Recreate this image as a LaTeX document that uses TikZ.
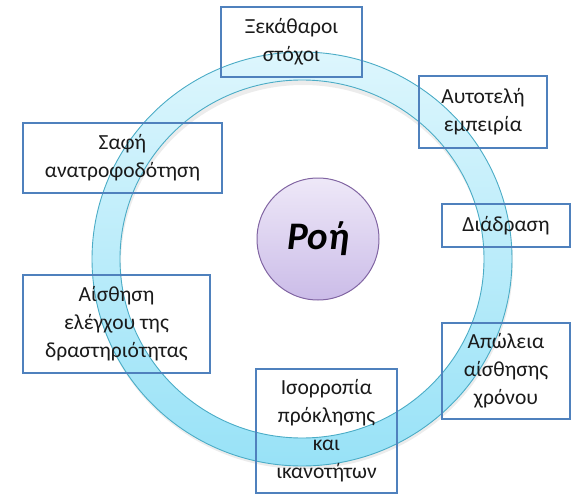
\documentclass[tikz,border=0pt]{standalone}
\usepackage{fontspec}
\setmainfont{Carlito}
\definecolor{boxline}{HTML}{4F81BD}
\definecolor{ringline}{HTML}{4BACC6}
\definecolor{ringtop}{HTML}{DDF6FD}
\definecolor{ringbot}{HTML}{98E2F7}
\definecolor{flowtop}{HTML}{EEE8F8}
\definecolor{flowbot}{HTML}{CBBCE8}
\definecolor{flowline}{HTML}{8064A2}
\definecolor{ink}{HTML}{1A1A1A}
\tikzset{
  topic/.style={draw=boxline, line width=1.1pt, inner sep=0pt, align=center,
    text=ink, font=\fontsize{21.5}{28}\selectfont},
  hub/.style={circle, draw=flowline, line width=1pt, inner sep=0pt,
    top color=flowtop, bottom color=flowbot,
    font=\fontsize{39}{42}\selectfont\bfseries\itshape, text=black}
}
\begin{document}
\begin{tikzpicture}[x=1pt,y=-1pt]
  \useasboundingbox (0,0) rectangle (571,495);
  % soft shadow under the ring
  \fill[black!12, even odd rule, opacity=0.6]
    (303,263) ellipse [x radius=210, y radius=206]
    (303,263) ellipse [x radius=182, y radius=178];
  % the ring
  \shade[top color=ringtop, bottom color=ringbot, even odd rule]
    (302,259) ellipse [x radius=210, y radius=207]
    (302,259) ellipse [x radius=182, y radius=179];
  \draw[ringline, line width=0.9pt]
    (302,259) ellipse [x radius=210, y radius=207]
    (302,259) ellipse [x radius=182, y radius=179];
  % central circle
  \node[hub, minimum size=122pt] (flow) at (318,239) {Ροή};
  % topic boxes
  \node[topic, minimum width=141pt, minimum height=70pt] (goals) at (291.5,42)
    {Ξεκάθαροι\\στόχοι};
  \node[topic, minimum width=128pt, minimum height=72pt] (autotelic) at (483,112)
    {Αυτοτελή\\εμπειρία};
  \node[topic, minimum width=128pt, minimum height=43pt] (interaction) at (506,225.5)
    {Διάδραση};
  \node[topic, minimum width=128pt, minimum height=96pt] (time) at (506,371)
    {Απώλεια\\αίσθησης\\χρόνου};
  \node[topic, minimum width=141pt, minimum height=124pt] (balance) at (326.5,431)
    {Ισορροπία\\πρόκλησης\\και\\ικανοτήτων};
  \node[topic, minimum width=187pt, minimum height=98pt] (control) at (116.5,324)
    {Αίσθηση\\ελέγχου της\\δραστηριότητας};
  \node[topic, minimum width=199pt, minimum height=70pt] (feedback) at (122.5,158)
    {Σαφή\\ανατροφοδότηση};
\end{tikzpicture}
\end{document}
